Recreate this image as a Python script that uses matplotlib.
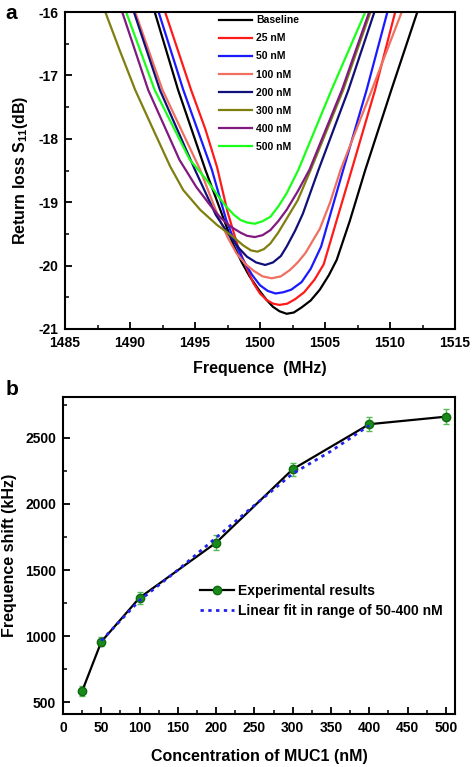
import numpy as np
import matplotlib
matplotlib.use("Agg")
import matplotlib.pyplot as plt
from matplotlib.ticker import MultipleLocator

plt.rcParams['font.family'] = ['Liberation Sans', 'DejaVu Sans']
plt.rcParams['font.weight'] = 'bold'
plt.rcParams['axes.unicode_minus'] = False
plt.rcParams['mathtext.fontset'] = 'custom'
plt.rcParams['mathtext.rm'] = 'Liberation Sans:bold'
plt.rcParams['mathtext.bf'] = 'Liberation Sans:bold'

# ---- panel a: return loss curves ----
labels_a = ['Baseline', '25 nM', '50 nM', '100 nM', '200 nM', '300 nM', '400 nM', '500 nM']
colors_a = ['#000000', '#ff1a1a', '#1a1aff', '#f07060', '#10107a', '#7f7f10', '#801a80', '#1aff1a']

f_base = [1491.9, 1493.7, 1495.8, 1497.0, 1497.9, 1498.6, 1499.2, 1499.9, 1500.5, 1501.0, 1501.5, 1502.05,
          1502.6, 1503.2, 1503.9, 1504.6, 1505.3, 1505.9, 1506.9, 1508.1, 1510.1, 1512.1]
s_base = [-16.0, -17.23, -18.49, -19.15, -19.65, -19.95, -20.17, -20.38, -20.54, -20.65, -20.72, -20.76,
          -20.74, -20.66, -20.55, -20.38, -20.15, -19.91, -19.3, -18.49, -17.23, -16.0]

f_25 = [1492.7, 1494.7, 1495.8, 1496.7, 1497.5, 1498.3, 1499.0, 1499.5, 1500.0, 1500.5, 1501.0, 1501.5, 1502.1,
        1502.7, 1503.4, 1504.2, 1504.9, 1505.95, 1507.05, 1508.85, 1510.4]
s_25 = [-16.0, -17.23, -17.85, -18.45, -19.15, -19.7, -20.05, -20.28, -20.44, -20.54, -20.6, -20.62, -20.6,
        -20.53, -20.42, -20.22, -19.98, -19.25, -18.49, -17.23, -16.0]

f_50 = [1492.2, 1494.1, 1496.3, 1497.4, 1498.1, 1498.7, 1499.4, 1500.0, 1500.6, 1501.2, 1501.8, 1502.4,
        1503.2, 1503.9, 1504.7, 1505.4, 1506.4, 1508.2, 1509.8]
s_50 = [-16.0, -17.23, -18.49, -19.28, -19.65, -19.91, -20.15, -20.31, -20.4, -20.44, -20.42, -20.38,
        -20.26, -20.05, -19.7, -19.2, -18.49, -17.23, -16.0]

f_100 = [1490.4, 1492.5, 1495.4, 1496.7, 1497.5, 1498.2, 1498.9, 1499.5, 1500.2, 1500.9, 1501.6, 1502.3,
         1502.9, 1503.5, 1504.6, 1505.4, 1506.2, 1508.6, 1510.9]
s_100 = [-16.0, -17.23, -18.49, -19.18, -19.55, -19.81, -19.98, -20.08, -20.17, -20.2, -20.17, -20.07,
         -19.95, -19.8, -19.42, -19.0, -18.49, -17.23, -16.0]

f_200 = [1490.3, 1492.3, 1495.0, 1496.6, 1497.7, 1498.4, 1499.0, 1499.7, 1500.4, 1501.0, 1501.6, 1502.05,
         1502.7, 1503.3, 1504.5, 1506.8, 1508.8]
s_200 = [-16.0, -17.23, -18.49, -19.2, -19.54, -19.73, -19.86, -19.95, -19.99, -19.95, -19.85, -19.7,
         -19.45, -19.18, -18.49, -17.23, -16.0]

f_300 = [1488.1, 1489.2, 1490.4, 1491.8, 1493.1, 1494.1, 1495.4, 1496.7, 1497.9, 1498.7, 1499.3, 1499.8,
         1500.3, 1500.8, 1501.4, 1502.05, 1502.9, 1503.9, 1506.4, 1508.5]
s_300 = [-16.0, -16.6, -17.23, -17.86, -18.44, -18.81, -19.12, -19.36, -19.54, -19.68, -19.76, -19.78,
         -19.74, -19.65, -19.48, -19.26, -18.97, -18.49, -17.23, -16.0]

f_400 = [1489.4, 1491.4, 1493.8, 1495.1, 1496.1, 1496.9, 1497.7, 1498.5, 1499.0, 1499.6, 1500.2, 1500.8,
         1501.4, 1502.05, 1502.9, 1503.8, 1506.3, 1508.4]
s_400 = [-16.0, -17.23, -18.33, -18.76, -19.03, -19.23, -19.38, -19.48, -19.53, -19.55, -19.52, -19.44,
         -19.3, -19.12, -18.83, -18.49, -17.23, -16.0]

f_500 = [1489.7, 1491.9, 1494.6, 1495.9, 1496.7, 1497.4, 1498.0, 1498.5, 1499.0, 1499.6, 1500.2, 1500.8,
         1501.4, 1502.05, 1502.95, 1505.5, 1508.1]
s_500 = [-16.0, -17.23, -18.33, -18.65, -18.88, -19.07, -19.2, -19.28, -19.32, -19.34, -19.3, -19.23,
         -19.07, -18.86, -18.49, -17.23, -16.0]

curves_f = [f_base, f_25, f_50, f_100, f_200, f_300, f_400, f_500]
curves_s = [s_base, s_25, s_50, s_100, s_200, s_300, s_400, s_500]

# ---- panel b: frequency shift vs concentration ----
conc = [25, 50, 100, 200, 300, 400, 500]
shift = [583, 957, 1290, 1707, 2263, 2604, 2661]
shift_err = [40, 35, 45, 55, 50, 55, 55]
fit_x = [50, 100, 150, 200, 250, 300, 350, 400]
fit_y = [965, 1270, 1500, 1745, 1990, 2230, 2400, 2595]

fig = plt.figure(figsize=(4.72, 7.67), dpi=100)
ax1 = fig.add_axes([65 / 472, 1 - 329 / 767, 390 / 472, 317 / 767])
ax2 = fig.add_axes([63 / 472, 1 - 714 / 767, 392 / 472, 317 / 767])

for f, s, c, lab in zip(curves_f, curves_s, colors_a, labels_a):
    ax1.plot(f, s, color=c, lw=1.6, label=lab, solid_joinstyle='round')

ax1.set_xlim(1485, 1515)
ax1.set_ylim(-21, -16)
ax1.xaxis.set_major_locator(MultipleLocator(5))
ax1.xaxis.set_minor_locator(MultipleLocator(2.5))
ax1.yaxis.set_major_locator(MultipleLocator(1))
ax1.yaxis.set_minor_locator(MultipleLocator(0.5))
ax1.set_xlabel('Frequence  (MHz)', fontsize=11.5, fontweight='bold', labelpad=8)
ax1.set_ylabel(r'Return loss S$_{11}$(dB)', fontsize=11.5, fontweight='bold', labelpad=6)
ax1.legend(loc='upper left', bbox_to_anchor=(0.395, 0.99), frameon=False,
           fontsize=7.5, handlelength=3.2, handletextpad=0.35, labelspacing=0.78,
           borderpad=0, borderaxespad=0)

ax2.errorbar(conc, shift, yerr=shift_err, fmt='none', ecolor='#55bb55', elinewidth=1,
             capsize=2, capthick=1, zorder=2)
ax2.plot(conc, shift, color='black', lw=1.6, marker='o', ms=6, mfc='#1a8a1a',
         mec='#0f6a0f', label='Experimental results', zorder=3)
ax2.plot(fit_x, fit_y, color='#2222ee', lw=2, ls=(0, (1.2, 1.6)),
         label='Linear fit in range of 50-400 nM', zorder=4)
ax2.set_xlim(0, 512)
ax2.set_ylim(410, 2810)
ax2.xaxis.set_major_locator(MultipleLocator(50))
ax2.xaxis.set_minor_locator(MultipleLocator(25))
ax2.yaxis.set_major_locator(MultipleLocator(500))
ax2.yaxis.set_minor_locator(MultipleLocator(250))
ax2.set_xlabel('Concentration of MUC1 (nM)', fontsize=11.5, fontweight='bold', labelpad=10)
ax2.set_ylabel('Frequence shift (kHz)', fontsize=11.5, fontweight='bold', labelpad=6)
ax2.legend(loc='upper left', bbox_to_anchor=(0.35, 0.41), frameon=False,
           fontsize=10, handlelength=2.4, handletextpad=0.3, labelspacing=0.4,
           borderpad=0, borderaxespad=0)

for ax in (ax1, ax2):
    for sp in ax.spines.values():
        sp.set_linewidth(1.5)
    ax.tick_params(which='major', direction='in', length=5, width=1.3, labelsize=10,
                   top=False, right=False, pad=5)
    ax.tick_params(which='minor', direction='in', length=3, width=1.1, top=False, right=False)
    for t in ax.get_xticklabels() + ax.get_yticklabels():
        t.set_fontweight('bold')

fig.text(0.012, 0.995, 'a', fontsize=15, fontweight='bold', va='top', ha='left')
fig.text(0.012, 0.505, 'b', fontsize=15, fontweight='bold', va='top', ha='left')

fig.savefig('out.png', dpi=100)
